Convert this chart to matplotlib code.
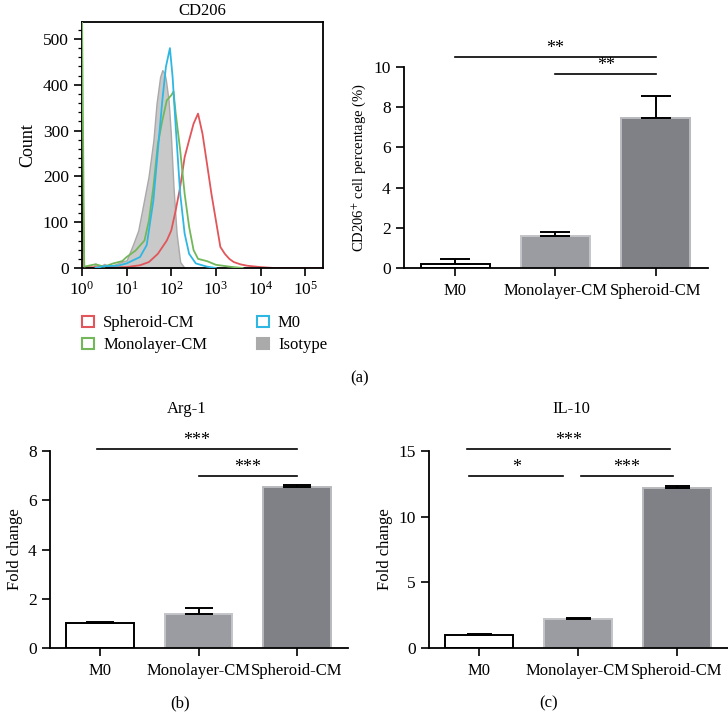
import matplotlib
matplotlib.use('Agg')
import matplotlib.pyplot as plt
import numpy as np
from matplotlib.patches import Patch
from matplotlib.ticker import MultipleLocator

plt.rcParams['font.family'] = ['Liberation Serif', 'DejaVu Serif']
plt.rcParams['mathtext.fontset'] = 'stix'

# ---------------- data ----------------
# Flow cytometry histogram (log10 intensity, count)
iso_log = [0.25, 0.3, 0.4, 0.5, 0.6, 0.75, 0.9, 1.0, 1.15, 1.26, 1.375, 1.49, 1.6, 1.67, 1.75, 1.8, 1.85, 1.88, 1.94, 1.99, 2.05, 2.12, 2.2, 2.3]
iso_cnt = [0, 10, 3, 9, 4, 8, 14, 17, 53, 82, 140, 199, 279, 359, 417, 432, 425, 410, 366, 293, 177, 75, 13, 0]

m0_log = [0.3, 0.5, 0.8, 1.0, 1.3, 1.45, 1.6, 1.7, 1.8, 1.88, 1.97, 2.03, 2.1, 2.2, 2.3, 2.4, 2.55, 2.8, 3.0]
m0_cnt = [0, 4, 5, 10, 24, 50, 148, 257, 366, 439, 480, 417, 308, 162, 75, 31, 10, 3, 0]

mono_log = [0.0, 0.05, 0.3, 0.5, 0.7, 0.9, 1.0, 1.2, 1.4, 1.5, 1.6, 1.7, 1.8, 1.9, 2.0, 2.05, 2.1, 2.2, 2.3, 2.4, 2.5, 2.6, 2.8, 3.0, 3.3, 3.6]
mono_cnt = [560, 3, 8, 3, 10, 15, 24, 38, 60, 104, 177, 271, 322, 366, 377, 385, 337, 257, 162, 90, 39, 20, 15, 7, 3, 0]

sph_log = [0.0, 0.05, 0.5, 1.0, 1.3, 1.5, 1.7, 1.9, 2.0, 2.1, 2.2, 2.3, 2.4, 2.5, 2.6, 2.7, 2.8, 2.9, 3.0, 3.1, 3.2, 3.3, 3.4, 3.55, 3.7, 4.0, 4.3, 5.4]
sph_cnt = [280, 2, 1, 2, 6, 13, 31, 60, 82, 126, 177, 242, 279, 315, 337, 293, 228, 162, 104, 46, 31, 20, 13, 8, 5, 2, 0, 0]

hist_ticks = [1, 10, 100, 1000, 10000, 100000]

categories = ['M0', 'Monolayer-CM', 'Spheroid-CM']
cd206_mean = [0.18, 1.60, 7.45]
cd206_err = [0.25, 0.18, 1.13]
arg1_mean = [1.00, 1.37, 6.52]
arg1_err = [0.07, 0.27, 0.08]
il10_mean = [1.00, 2.20, 12.15]
il10_err = [0.05, 0.08, 0.20]

# ---------------- layout helpers ----------------
W, H = 728, 724
def rect(l, t, r, b):
    return [l / W, 1 - b / H, (r - l) / W, (b - t) / H]

fig = plt.figure(figsize=(7.28, 7.24), dpi=100)
FS = 12
TFS = 12.5

RED = '#e2555a'
GREEN = '#72b85a'
CYAN = '#2fb7e3'
GRAYF = '#c9c9c9'
GRAYE = '#a9a9a9'

# ---------------- histogram ----------------
ax = fig.add_axes(rect(82, 22, 323, 268))
ax.set_xscale('log')
ax.fill_between(10 ** np.array(iso_log), iso_cnt, 0, facecolor=GRAYF, edgecolor=GRAYE, lw=1.0, zorder=1)
ax.plot(10 ** np.array(mono_log), mono_cnt, color=GREEN, lw=1.3, zorder=3)
ax.plot(10 ** np.array(m0_log), m0_cnt, color=CYAN, lw=1.3, zorder=4)
ax.plot(10 ** np.array(sph_log), sph_cnt, color=RED, lw=1.3, zorder=2)
ax.set_xlim(1, 10 ** 5.4)
ax.set_ylim(0, 537)
ax.set_xticks(hist_ticks)
ax.set_yticks(range(0, 501, 100))
ax.yaxis.set_minor_locator(MultipleLocator(20))
for s in ax.spines.values():
    s.set_linewidth(1.3)
ax.tick_params(axis='both', which='major', direction='out', length=6, width=1.2, labelsize=TFS)
ax.tick_params(axis='both', which='minor', direction='out', length=3, width=0.9)
ax.set_ylabel('Count', fontsize=13, labelpad=5)
ax.set_title('CD206', fontsize=FS, pad=5)

handles = [Patch(facecolor='white', edgecolor=RED, lw=1.5, label='Spheroid-CM'),
           Patch(facecolor='white', edgecolor=GREEN, lw=1.5, label='Monolayer-CM'),
           Patch(facecolor='white', edgecolor=CYAN, lw=1.5, label='M0'),
           Patch(facecolor='#aaaaaa', edgecolor='#aaaaaa', lw=1.5, label='Isotype')]
fig.legend(handles=handles, ncol=2, loc='upper left', bbox_to_anchor=(74 / W, 1 - 307 / H),
           frameon=False, fontsize=FS, handlelength=0.7, handleheight=0.7,
           handletextpad=0.55, columnspacing=3.0, labelspacing=0.35, borderpad=0)

# ---------------- bar helper ----------------
def bars(axb, means, errs, ymax, yticks, ylabel, capsz, ylfs=FS):
    x = np.arange(len(categories))
    colors = ['white', '#9b9ca1', '#808186']
    edges = ['black', '#c4c5c8', '#b9babd']
    axb.bar(x, means, width=0.69, color=colors, edgecolor=edges, linewidth=1.4, zorder=2)
    axb.errorbar(x, means, yerr=[np.zeros(len(errs)), errs], fmt='none', ecolor='black',
                 elinewidth=1.4, capsize=capsz, capthick=1.4, zorder=3)
    axb.set_xlim(-0.51, 2.52)
    axb.set_ylim(0, ymax)
    axb.set_yticks(yticks)
    axb.set_xticks(x)
    axb.set_xticklabels(categories)
    axb.spines['top'].set_visible(False)
    axb.spines['right'].set_visible(False)
    for s in ('left', 'bottom'):
        axb.spines[s].set_linewidth(1.3)
    axb.tick_params(direction='out', length=6, width=1.2, labelsize=TFS)
    axb.tick_params(axis='x', labelsize=FS, pad=5)
    axb.set_ylabel(ylabel, fontsize=ylfs)

def sig(axb, x0, x1, y, txt):
    axb.plot([x0, x1], [y, y], color='black', lw=1.2, clip_on=False)
    axb.text((x0 + x1) / 2, y, txt, ha='center', va='bottom', fontsize=13, clip_on=False)

# (a) bar chart
axa = fig.add_axes(rect(404, 67, 708, 268))
bars(axa, cd206_mean, cd206_err, 10, range(0, 11, 2), 'CD206$^{+}$ cell percentage (%)', 11, ylfs=10.5)
sig(axa, 0, 2, 10.5, '**')
sig(axa, 1, 2, 9.65, '**')

# (b)
axb = fig.add_axes(rect(50, 451, 348, 648))
bars(axb, arg1_mean, arg1_err, 8, range(0, 9, 2), 'Fold change', 10)
sig(axb, -0.03, 2.0, 8.08, '***')
sig(axb, 1.0, 2.0, 6.97, '***')

# (c)
axc = fig.add_axes(rect(429, 451, 728, 648))
bars(axc, il10_mean, il10_err, 15, range(0, 16, 5), 'Fold change', 9)
sig(axc, -0.12, 1.93, 15.12, '***')
sig(axc, -0.1, 0.85, 13.1, '*')
sig(axc, 1.03, 1.96, 13.1, '***')

fig.text(187 / W, 1 - 409 / H, 'Arg-1', ha='center', va='center', fontsize=FS)
fig.text(571 / W, 1 - 409 / H, 'IL-10', ha='center', va='center', fontsize=FS)

fig.text(360 / W, 1 - 378 / H, '(a)', ha='center', va='center', fontsize=FS)
fig.text(180 / W, 1 - 703 / H, '(b)', ha='center', va='center', fontsize=FS)
fig.text(549 / W, 1 - 703 / H, '(c)', ha='center', va='center', fontsize=FS)

fig.savefig('out.png', dpi=100)
